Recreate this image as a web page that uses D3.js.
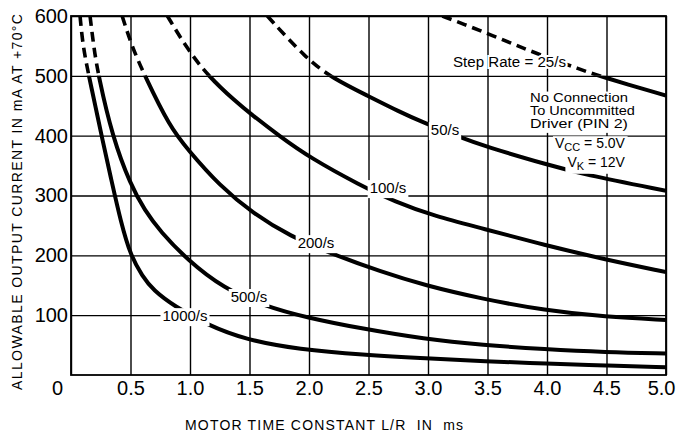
<!DOCTYPE html>
<html>
<head>
<meta charset="utf-8">
<script src="https://cdn.jsdelivr.net/npm/d3@7"></script>
<style>
body { margin: 0; background: #fff; }
text { font-family: "Liberation Sans", Arial, sans-serif; fill: #000; }
</style>
</head>
<body>
<div id="chart"></div>
<script>
var svgWidth = 676;
var svgHeight = 434;

var margin = { top: 16, right: 10, bottom: 59, left: 71 };

var width = svgWidth - margin.left - margin.right;
var height = svgHeight - margin.top - margin.bottom;

// step rate curves, [L/R in ms, current in mA]
var rate1000 = [[0.076, 600], [0.10, 550], [0.15, 500], [0.21, 445], [0.26, 397], [0.34, 325], [0.42, 255],
    [0.50, 200], [0.60, 165], [0.69, 142], [0.87, 115], [1.13, 85], [1.48, 58], [1.92, 43], [2.43, 34],
    [3.06, 27], [3.46, 23], [4.0, 19], [4.49, 16], [5.0, 13]];
var rate500 = [[0.16, 600], [0.19, 550], [0.23, 500], [0.35, 397], [0.50, 318], [0.62, 275], [0.75, 240],
    [0.98, 192], [1.28, 145], [1.63, 115], [1.98, 96], [2.43, 78], [2.97, 60], [3.46, 50], [3.98, 43],
    [4.49, 38], [5.0, 36]];
var rate200 = [[0.43, 600], [0.51, 550], [0.62, 500], [0.83, 415], [0.98, 377], [1.25, 316], [1.53, 270],
    [1.84, 232], [2.2, 202], [2.6, 173], [2.97, 150], [3.46, 127], [3.98, 108], [4.49, 97], [5.0, 92]];
var rate100 = [[0.81, 600], [0.97, 547], [1.15, 500], [1.39, 456], [1.50, 438], [1.76, 398], [2.01, 363],
    [2.43, 317], [2.72, 290], [3.06, 265], [3.46, 245], [3.98, 217], [4.49, 193], [5.0, 172]];
var rate50 = [[1.65, 600], [1.98, 528], [2.20, 496], [2.49, 467], [2.76, 440], [2.96, 422], [3.27, 397],
    [3.48, 382], [4.03, 350], [4.29, 336], [5.0, 308]];
var rate25 = [[3.12, 600], [3.28, 588], [3.61, 562], [3.90, 538], [4.29, 510], [4.45, 499], [5.0, 467]];

var series = [rate1000, rate500, rate200, rate100, rate50, rate25];

// labels written on the curves: text, L/R and mA where they sit
var curveLabels = ["1000/s", "500/s", "200/s", "100/s", "50/s"];
var curveLabelX = [0.958, 1.496, 2.059, 2.664, 3.143];
var curveLabelY = [90, 122, 212, 304, 401];

var xTicks = [0, 0.5, 1.0, 1.5, 2.0, 2.5, 3.0, 3.5, 4.0, 4.5, 5.0];
var xTickLabels = ["0", "0.5", "1.0", "1.5", "2.0", "2.5", "3.0", "3.5", "4.0", "4.5", "5.0"];
var yTicks = [100, 200, 300, 400, 500, 600];
var yTickLabels = ["100", "200", "300", "400", "500", "600"];

var dashLimit = 500; // curves are dashed above this current

var svg = d3.select("#chart")
    .append("svg")
    .attr("width", svgWidth)
    .attr("height", svgHeight);

var chart = svg.append("g")
    .attr("transform", `translate(${margin.left}, ${margin.top})`);

var xScale = d3.scaleLinear().domain([0, 5]).range([0, width]);
var yScale = d3.scaleLinear().domain([0, 600]).range([height, 0]);

// grid
chart.append("g")
    .attr("transform", `translate(0, ${height})`)
    .call(d3.axisBottom(xScale).tickValues(xTicks).tickSize(-height).tickFormat(""))
    .call(g => g.select(".domain").remove())
    .selectAll("line").attr("stroke", "#000").attr("stroke-width", 1.4);

chart.append("g")
    .call(d3.axisLeft(yScale).tickValues(yTicks).tickSize(-width).tickFormat(""))
    .call(g => g.select(".domain").remove())
    .selectAll("line").attr("stroke", "#000").attr("stroke-width", 1.4);

chart.append("rect")
    .attr("width", width)
    .attr("height", height)
    .attr("fill", "none")
    .attr("stroke", "#000")
    .attr("stroke-width", 1.8);

// tick labels
var xAxis = chart.append("g")
    .attr("transform", `translate(0, ${height})`)
    .call(d3.axisBottom(xScale).tickValues(xTicks).tickSize(0).tickPadding(6)
        .tickFormat((d, i) => xTickLabels[i]));
xAxis.select(".domain").remove();
xAxis.selectAll("text").attr("font-size", 20).attr("font-family", "Liberation Sans");
xAxis.selectAll(".tick").filter(d => d === 0).select("text").attr("x", -14);
xAxis.selectAll(".tick").filter(d => d === 5).select("text").attr("text-anchor", "end").attr("x", 9);

var yAxis = chart.append("g")
    .call(d3.axisLeft(yScale).tickValues(yTicks).tickSize(0).tickPadding(3)
        .tickFormat((d, i) => yTickLabels[i]));
yAxis.select(".domain").remove();
yAxis.selectAll("text").attr("font-size", 20).attr("font-family", "Liberation Sans");

// clip zones: dashed part above 500 mA, solid below
var defs = svg.append("defs");
defs.append("clipPath").attr("id", "dashZone")
    .append("rect")
    .attr("x", 0).attr("y", 0)
    .attr("width", width).attr("height", yScale(dashLimit));
defs.append("clipPath").attr("id", "solidZone")
    .append("rect")
    .attr("x", 0).attr("y", yScale(dashLimit))
    .attr("width", width).attr("height", height - yScale(dashLimit));

var line = d3.line()
    .x(d => xScale(d[0]))
    .y(d => yScale(d[1]))
    .curve(d3.curveBasis);

chart.append("g")
    .attr("clip-path", "url(#dashZone)")
    .selectAll("path")
    .data(series)
    .enter()
    .append("path")
    .attr("d", line)
    .attr("fill", "none")
    .attr("stroke", "#000")
    .attr("stroke-width", 3.6)
    .attr("stroke-dasharray", "10,6");

chart.append("g")
    .attr("clip-path", "url(#solidZone)")
    .selectAll("path")
    .data(series)
    .enter()
    .append("path")
    .attr("d", line)
    .attr("fill", "none")
    .attr("stroke", "#000")
    .attr("stroke-width", 4);

// labels sit on white boxes that break the lines under them
var boxLayer = chart.append("g");
var textLayer = chart.append("g");

function boxedText(px, py, anchor, size, build) {
    var rect = boxLayer.append("rect").attr("fill", "#fff");
    var t = textLayer.append("text")
        .attr("x", px)
        .attr("y", py)
        .attr("text-anchor", anchor)
        .attr("font-size", size);
    build(t);
    var b = t.node().getBBox();
    rect.attr("x", b.x - 2).attr("y", b.y + 1)
        .attr("width", b.width + 4).attr("height", b.height + 1);
    return t;
}

curveLabels.forEach(function (label, i) {
    boxedText(xScale(curveLabelX[i]), yScale(curveLabelY[i]), "middle", 15, t => t.text(label));
});

// annotations
textLayer.append("text")
    .attr("x", xScale(3.21))
    .attr("y", yScale(515))
    .attr("font-size", 14)
    .attr("textLength", 113)
    .attr("lengthAdjust", "spacingAndGlyphs")
    .attr("stroke", "#fff")
    .attr("stroke-width", 4)
    .attr("paint-order", "stroke")
    .text("Step Rate = 25/s");

var noteLines = ["No Connection", "To Uncommitted", "Driver (PIN 2)"];
var noteY = [457, 435, 413];
var noteLengths = [98, 105, 98];
noteLines.forEach(function (s, i) {
    boxedText(xScale(3.857), yScale(noteY[i]), "start", 12, function (t) {
        t.attr("textLength", noteLengths[i]).attr("lengthAdjust", "spacingAndGlyphs").text(s);
    });
});

boxedText(xScale(4.655), yScale(379), "end", 14, function (t) {
    t.append("tspan").text("V");
    t.append("tspan").attr("font-size", 11).attr("dy", 3).text("CC");
    t.append("tspan").attr("dy", -3).text(" = 5.0V");
});
boxedText(xScale(4.655), yScale(348), "end", 14, function (t) {
    t.append("tspan").text("V");
    t.append("tspan").attr("font-size", 11).attr("dy", 3).text("K");
    t.append("tspan").attr("dy", -3).text(" = 12V");
});

// axis titles
svg.append("text")
    .attr("transform", "translate(22, 202) rotate(-90)")
    .attr("text-anchor", "middle")
    .attr("font-size", 14)
    .attr("textLength", 376)
    .attr("lengthAdjust", "spacing")
    .text("ALLOWABLE OUTPUT CURRENT IN mA AT +70°C");

svg.append("text")
    .attr("x", 324)
    .attr("y", 430)
    .attr("text-anchor", "middle")
    .attr("font-size", 14)
    .attr("textLength", 278)
    .attr("lengthAdjust", "spacing")
    .style("white-space", "pre")
    .text("MOTOR TIME CONSTANT L/R  IN  ms");
</script>
</body>
</html>
